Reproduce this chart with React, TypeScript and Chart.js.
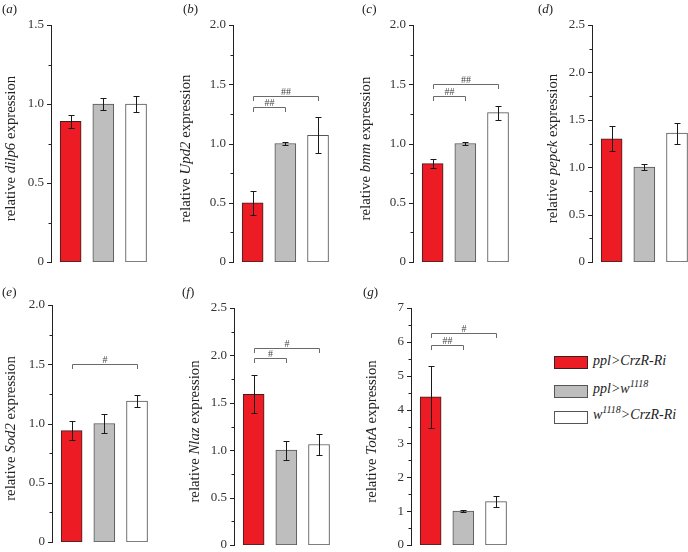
import React, { useEffect, useRef } from 'react';
import { Chart, registerables } from 'chart.js';

Chart.register(...registerables);

// ---------- data ----------
const groups = ['ppl>CrzR-Ri', 'ppl>w1118', 'w1118>CrzR-Ri'];
const groupX = [0, 1, 2];

const dilp6Mean = [0.89, 1.0, 1.0];
const dilp6Err = [0.04, 0.04, 0.05];
const upd2Mean = [0.5, 1.0, 1.07];
const upd2Err = [0.1, 0.01, 0.15];
const bmmMean = [0.83, 1.0, 1.26];
const bmmErr = [0.04, 0.01, 0.06];
const pepckMean = [1.3, 1.0, 1.36];
const pepckErr = [0.13, 0.03, 0.11];
const sod2Mean = [0.94, 1.0, 1.19];
const sod2Err = [0.08, 0.08, 0.05];
const nlazMean = [1.59, 1.0, 1.06];
const nlazErr = [0.2, 0.1, 0.11];
const totaMean = [4.38, 1.0, 1.28];
const totaErr = [0.92, 0.02, 0.16];

type Bracket = { from: number; to: number; y: number; label: string };
const upd2Brackets: Bracket[] = [
  { from: 0, to: 1, y: 1.31, label: '##' },
  { from: 0, to: 2, y: 1.4, label: '##' },
];
const bmmBrackets: Bracket[] = [
  { from: 0, to: 1, y: 1.4, label: '##' },
  { from: 0, to: 2, y: 1.5, label: '##' },
];
const sod2Brackets: Bracket[] = [{ from: 0, to: 2, y: 1.5, label: '#' }];
const nlazBrackets: Bracket[] = [
  { from: 0, to: 1, y: 1.97, label: '#' },
  { from: 0, to: 2, y: 2.08, label: '#' },
];
const totaBrackets: Bracket[] = [
  { from: 0, to: 1, y: 5.92, label: '##' },
  { from: 0, to: 2, y: 6.27, label: '#' },
];

// ---------- style ----------
const FONT = '"Liberation Serif", "Times New Roman", serif';
const barFills = ['#ED1C24', '#BEBEBE', '#FFFFFF'];
const barBorders = ['#3a2020', '#555555', '#555555'];

type PanelDef = {
  letter: string;
  gene: string;
  means: number[];
  errs: number[];
  brackets: Bracket[];
  ymax: number;
  major: number;
  decimals: number;
  axisX: number;
  plotTop: number;
  plotBottom: number;
  titleOffset: number;
  labelX: number;
  labelY: number;
};

const panels: PanelDef[] = [
  { letter: 'a', gene: 'dilp6', means: dilp6Mean, errs: dilp6Err, brackets: [], ymax: 1.5, major: 0.5, decimals: 1, axisX: 51, plotTop: 25, plotBottom: 262, titleOffset: 40, labelX: 2, labelY: 2 },
  { letter: 'b', gene: 'Upd2', means: upd2Mean, errs: upd2Err, brackets: upd2Brackets, ymax: 2.0, major: 0.5, decimals: 1, axisX: 233, plotTop: 25, plotBottom: 262, titleOffset: 47, labelX: 183, labelY: 2 },
  { letter: 'c', gene: 'bmm', means: bmmMean, errs: bmmErr, brackets: bmmBrackets, ymax: 2.0, major: 0.5, decimals: 1, axisX: 413, plotTop: 25, plotBottom: 262, titleOffset: 47, labelX: 362, labelY: 2 },
  { letter: 'd', gene: 'pepck', means: pepckMean, errs: pepckErr, brackets: [], ymax: 2.5, major: 0.5, decimals: 1, axisX: 592, plotTop: 25, plotBottom: 262, titleOffset: 38.5, labelX: 538, labelY: 2 },
  { letter: 'e', gene: 'Sod2', means: sod2Mean, errs: sod2Err, brackets: sod2Brackets, ymax: 2.0, major: 0.5, decimals: 1, axisX: 52, plotTop: 305, plotBottom: 542, titleOffset: 40.5, labelX: 2, labelY: 285 },
  { letter: 'f', gene: 'Nlaz', means: nlazMean, errs: nlazErr, brackets: nlazBrackets, ymax: 2.5, major: 0.5, decimals: 1, axisX: 234, plotTop: 308, plotBottom: 545, titleOffset: 38.5, labelX: 182, labelY: 285 },
  { letter: 'g', gene: 'TotA', means: totaMean, errs: totaErr, brackets: totaBrackets, ymax: 7, major: 1, decimals: 0, axisX: 411, plotTop: 308, plotBottom: 545, titleOffset: 38.5, labelX: 363, labelY: 285 },
];

const Y_W = 56;
const CANVAS_W = 172;
const PX_PER_UNIT = 32.7;
const X_MIN = -0.6;
const TOP_PAD = 25;
const BOTTOM_PAD = 16;

function isMajor(v: number, major: number) {
  const r = v / major;
  return Math.abs(r - Math.round(r)) < 1e-6;
}

function Panel({ p }: { p: PanelDef }) {
  const ref = useRef<HTMLCanvasElement>(null);
  const left = p.axisX - Y_W;
  const top = p.plotTop - TOP_PAD;
  const height = p.plotBottom - top + BOTTOM_PAD;

  useEffect(() => {
    const canvas = ref.current!;
    const plotW = CANVAS_W - Y_W;
    const extras = {
      id: 'extras',
      afterDatasetsDraw(chart: any) {
        const ctx = chart.ctx;
        const xs = chart.scales.x;
        const ys = chart.scales.y;
        ctx.save();
        // error bars
        ctx.strokeStyle = '#1a1a1a';
        ctx.lineWidth = 1;
        p.means.forEach((m, i) => {
          const x = Math.round(xs.getPixelForValue(groupX[i])) + 0.5;
          const yT = Math.round(ys.getPixelForValue(m + p.errs[i])) + 0.5;
          const yB = Math.round(ys.getPixelForValue(m - p.errs[i])) + 0.5;
          ctx.beginPath();
          ctx.moveTo(x, yT);
          ctx.lineTo(x, yB);
          ctx.moveTo(x - 3, yT);
          ctx.lineTo(x + 3, yT);
          ctx.moveTo(x - 3, yB);
          ctx.lineTo(x + 3, yB);
          ctx.stroke();
        });
        // significance brackets
        ctx.strokeStyle = '#6a6a6a';
        ctx.fillStyle = '#444';
        ctx.font = `10px ${FONT}`;
        ctx.textAlign = 'center';
        ctx.textBaseline = 'alphabetic';
        p.brackets.forEach((b) => {
          const x1 = Math.round(xs.getPixelForValue(groupX[b.from])) + 0.5;
          const x2 = Math.round(xs.getPixelForValue(groupX[b.to])) + 0.5;
          const y = Math.round(ys.getPixelForValue(b.y)) + 0.5;
          ctx.beginPath();
          ctx.moveTo(x1, y + 4.5);
          ctx.lineTo(x1, y);
          ctx.lineTo(x2, y);
          ctx.lineTo(x2, y + 4.5);
          ctx.stroke();
          ctx.fillText(b.label, (x1 + x2) / 2, y - 2);
        });
        ctx.restore();
      },
      afterDraw(chart: any) {
        const ctx = chart.ctx;
        const ys = chart.scales.y;
        const area = chart.chartArea;
        ctx.save();
        // tick marks (major and minor)
        ctx.strokeStyle = '#222';
        ctx.lineWidth = 1;
        ctx.beginPath();
        ys.ticks.forEach((t: any) => {
          const y = Math.round(ys.getPixelForValue(t.value)) + 0.5;
          const len = isMajor(t.value, p.major) ? 4 : 2.5;
          ctx.moveTo(area.left - len, y);
          ctx.lineTo(area.left, y);
        });
        ctx.stroke();
        // axis title with italic gene name
        const size = 14.8;
        const parts = [
          { t: 'relative ', f: `${size}px ${FONT}` },
          { t: p.gene, f: `italic ${size}px ${FONT}` },
          { t: ' expression', f: `${size}px ${FONT}` },
        ];
        let total = 0;
        const widths = parts.map((s) => {
          ctx.font = s.f;
          const w = ctx.measureText(s.t).width;
          total += w;
          return w;
        });
        const cy = (area.top + area.bottom) / 2 + 5;
        ctx.translate(area.left - p.titleOffset, cy);
        ctx.rotate(-Math.PI / 2);
        ctx.fillStyle = '#222';
        ctx.textBaseline = 'middle';
        ctx.textAlign = 'left';
        let x = -total / 2;
        parts.forEach((s, i) => {
          ctx.font = s.f;
          ctx.fillText(s.t, x, 0);
          x += widths[i];
        });
        ctx.restore();
      },
    };

    const chart = new Chart(canvas, {
      type: 'bar',
      data: {
        labels: groups,
        datasets: [
          {
            data: p.means.map((m, i) => ({ x: groupX[i], y: m })),
            backgroundColor: barFills,
            borderColor: barBorders,
            borderWidth: 1,
            borderSkipped: false,
            barThickness: 21,
          } as any,
        ],
      },
      options: {
        responsive: false,
        animation: false,
        devicePixelRatio: 1,
        layout: { padding: { top: TOP_PAD, bottom: BOTTOM_PAD, left: 0, right: 0 } },
        plugins: {
          legend: { display: false },
          tooltip: { enabled: false },
          title: { display: false },
        },
        scales: {
          x: {
            type: 'linear',
            display: false,
            offset: false,
            min: X_MIN,
            max: X_MIN + plotW / PX_PER_UNIT,
          },
          y: {
            type: 'linear',
            min: 0,
            max: p.ymax,
            afterFit: (s: any) => {
              s.width = Y_W;
            },
            grid: { display: false, drawTicks: false },
            border: { display: true, color: '#222', width: 1 },
            ticks: {
              stepSize: p.major / 2,
              autoSkip: false,
              padding: 7,
              color: '#333',
              font: { family: FONT, size: 13 },
              callback: (v: any) => {
                const n = Number(v);
                if (!isMajor(n, p.major)) return '';
                if (Math.abs(n) < 1e-9) return '0';
                return n.toFixed(p.decimals);
              },
            },
          },
        },
      } as any,
      plugins: [extras],
    });
    return () => chart.destroy();
  }, []);

  return (
    <>
      <canvas
        ref={ref}
        width={CANVAS_W}
        height={height}
        style={{ position: 'absolute', left, top, width: CANVAS_W, height }}
      />
      <div
        style={{
          position: 'absolute',
          left: p.labelX,
          top: p.labelY,
          fontSize: 13,
          lineHeight: '13px',
          color: '#222',
          whiteSpace: 'nowrap',
        }}
      >
        (<i>{p.letter}</i>)
      </div>
    </>
  );
}

function LegendRow({ fill, border, top, textTop, children }: any) {
  return (
    <>
      <div
        style={{
          position: 'absolute',
          left: 554,
          top,
          width: 34,
          height: 13,
          boxSizing: 'border-box',
          background: fill,
          border: `1px solid ${border}`,
        }}
      />
      <div
        style={{
          position: 'absolute',
          left: 593,
          top: textTop,
          fontSize: 14,
          lineHeight: '14px',
          fontStyle: 'italic',
          color: '#222',
          whiteSpace: 'nowrap',
        }}
      >
        {children}
      </div>
    </>
  );
}

const supStyle: React.CSSProperties = {
  fontSize: 10,
  verticalAlign: 'baseline',
  position: 'relative',
  top: -6,
};

export default function App() {
  return (
    <div
      style={{
        position: 'absolute',
        left: 0,
        top: 0,
        width: 688,
        height: 552,
        overflow: 'hidden',
        background: '#fff',
        fontFamily: FONT,
      }}
    >
      {panels.map((p) => (
        <Panel key={p.letter} p={p} />
      ))}
      <LegendRow fill={barFills[0]} border="#3a2020" top={356} textTop={354}>
        ppl&gt;CrzR-Ri
      </LegendRow>
      <LegendRow fill={barFills[1]} border="#555" top={385} textTop={382}>
        ppl&gt;w<span style={supStyle}>1118</span>
      </LegendRow>
      <LegendRow fill={barFills[2]} border="#555" top={411} textTop={408}>
        w<span style={supStyle}>1118</span>&gt;CrzR-Ri
      </LegendRow>
    </div>
  );
}
